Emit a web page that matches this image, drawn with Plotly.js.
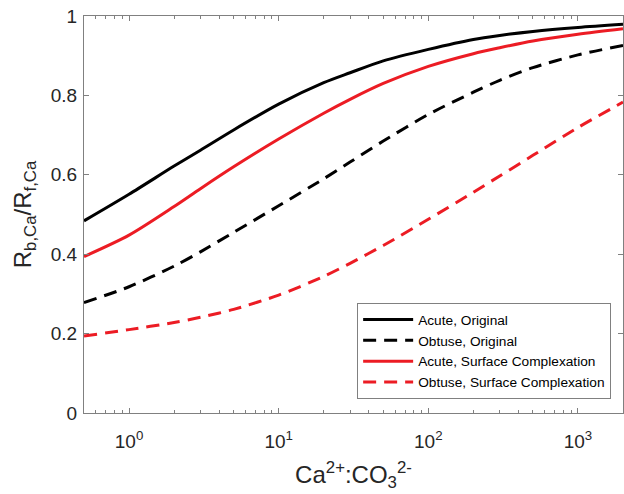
<!DOCTYPE html>
<html>
<head>
<meta charset="utf-8">
<script src="https://cdn.plot.ly/plotly-3.0.1.min.js"></script>
<style>
  html, body { margin: 0; padding: 0; background: #fff; }
  #chart { width: 624px; height: 494px; }
</style>
</head>
<body>
<div id="chart"></div>
<script>
// Ca2+:CO3 2- activity ratio (log axis)
const ratio = [0.5, 1, 2, 3, 5, 10, 20, 30, 50, 100, 200, 300, 500, 1000, 2000];

// R_b,Ca / R_f,Ca for each step type and model
const acuteOriginal   = [0.484, 0.551, 0.622, 0.662, 0.713, 0.778, 0.832, 0.857, 0.887, 0.916, 0.941, 0.951, 0.961, 0.971, 0.979];
const obtuseOriginal  = [0.278, 0.318, 0.370, 0.406, 0.455, 0.522, 0.590, 0.632, 0.685, 0.752, 0.808, 0.838, 0.870, 0.902, 0.926];
const acuteSurface    = [0.394, 0.448, 0.520, 0.565, 0.620, 0.690, 0.755, 0.790, 0.830, 0.873, 0.905, 0.920, 0.937, 0.954, 0.968];
const obtuseSurface   = [0.194, 0.210, 0.228, 0.241, 0.261, 0.297, 0.344, 0.377, 0.422, 0.488, 0.556, 0.597, 0.649, 0.719, 0.783];

const seriesNames = [
  'Acute, Original',
  'Obtuse, Original',
  'Acute, Surface Complexation',
  'Obtuse, Surface Complexation'
];

const xTickVals = [1, 10, 100, 1000];
const xTickText = ['10<sup>0</sup>', '10<sup>1</sup>', '10<sup>2</sup>', '10<sup>3</sup>'];
const yTickVals = [0, 0.2, 0.4, 0.6, 0.8, 1];
const yTickText = ['0', '0.2', '0.4', '0.6', '0.8', '1'];

// minor ticks between decades on the log axis
const xMinor = [];
[0.1, 1, 10, 100, 1000].forEach(d => {
  for (let k = 2; k <= 9; k++) {
    const v = d * k;
    if (v > 0.5 && v < 2000) xMinor.push(v);
  }
});

const BLACK = '#000000';
const RED = 'rgb(236,28,36)';
const DASH = '13px,8px';

function trace(y, name, color, dash) {
  return {
    x: ratio, y: y, name: name, type: 'scatter', mode: 'lines',
    line: { color: color, width: 3, dash: dash, shape: 'spline', smoothing: 0.8 }
  };
}

const data = [
  trace(acuteOriginal,  seriesNames[0], BLACK, 'solid'),
  trace(obtuseOriginal, seriesNames[1], BLACK, DASH),
  trace(acuteSurface,   seriesNames[2], RED,   'solid'),
  trace(obtuseSurface,  seriesNames[3], RED,   DASH)
];

const FONT = 'Liberation Sans, Arial, Helvetica, sans-serif';
const AXIS = '#808080';

const layout = {
  width: 624, height: 494,
  margin: { l: 84, r: 1, t: 16, b: 81 },
  paper_bgcolor: '#fff', plot_bgcolor: '#fff',
  font: { family: FONT, color: '#262626', size: 18 },
  showlegend: true,
  legend: {
    x: 0.978, y: 0.035, xanchor: 'right', yanchor: 'bottom',
    bgcolor: '#fff', bordercolor: AXIS, borderwidth: 1,
    font: { family: FONT, size: 13.7, color: '#000' },
    itemwidth: 50,
    tracegroupgap: 0
  },
  xaxis: {
    type: 'log',
    range: [Math.log10(0.5), Math.log10(2000)],
    tickvals: xTickVals, ticktext: xTickText,
    ticks: 'inside', ticklen: 5, tickcolor: AXIS, tickwidth: 1,
    showline: true, linecolor: AXIS, linewidth: 1, mirror: 'allticks',
    showgrid: false, zeroline: false,
    minor: { tickvals: xMinor, ticks: 'inside', ticklen: 3, tickcolor: AXIS, showgrid: false },
    tickfont: { size: 19 },
    ticklabelstandoff: 11,
    title: { text: 'Ca<sup>2+</sup>:CO<sub>3</sub><sup>2-</sup>', font: { size: 24, color: '#262626' }, standoff: 15 }
  },
  yaxis: {
    range: [0, 1],
    tickvals: yTickVals, ticktext: yTickText,
    ticks: 'inside', ticklen: 5, tickcolor: AXIS, tickwidth: 1,
    showline: true, linecolor: AXIS, linewidth: 1, mirror: 'allticks',
    showgrid: false, zeroline: false,
    tickfont: { size: 19 },
    ticklabelstandoff: 2,
    title: { text: 'R<sub>b,Ca</sub>/R<sub>f,Ca</sub>', font: { size: 24, color: '#262626' }, standoff: 12 }
  }
};

Plotly.newPlot('chart', data, layout, { staticPlot: true, displayModeBar: false });
</script>
</body>
</html>
